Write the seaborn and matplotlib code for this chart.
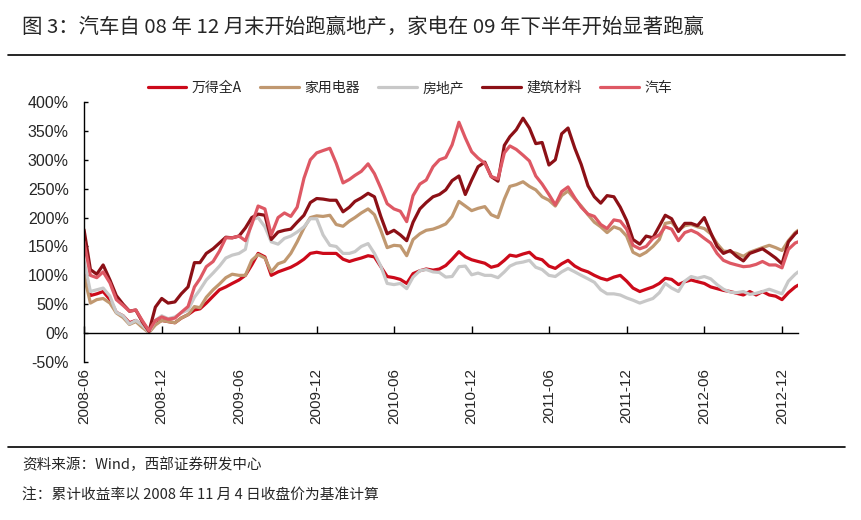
import pandas as pd
import matplotlib.pyplot as plt
import matplotlib.dates as mdates
from matplotlib.ticker import PercentFormatter
from matplotlib.lines import Line2D
import seaborn as sns

# 半月频日期（每月1日、16日），最后一个点 2013-01-08
dates = []
for y in range(2008, 2014):
    for m in range(1, 13):
        for d in (1, 16):
            t = pd.Timestamp(y, m, d)
            if pd.Timestamp(2008, 6, 1) <= t <= pd.Timestamp(2013, 1, 1):
                dates.append(t)
dates.append(pd.Timestamp(2013, 1, 8))

series_names = ['万得全A', '家用电器', '房地产', '建筑材料', '汽车']

# 累计收益率（%）
wind_a = [118, 65, 68, 72, 58, 36, 30, 18, 22, 12,
          2, 16, 22, 20, 18, 26, 32, 40, 42, 52,
          64, 75, 80, 86, 92, 100, 118, 138, 132, 100,
          106, 110, 114, 120, 128, 138, 140, 138, 138, 138,
          128, 124, 127, 130, 134, 132, 115, 98, 96, 93,
          86, 103, 108, 111, 109, 111, 117, 128, 141, 132,
          127, 124, 121, 114, 117, 126, 135, 133, 137, 140,
          130, 127, 116, 112, 120, 126, 116, 110, 106, 100,
          95, 92, 97, 100, 90, 78, 72, 76, 80, 86,
          95, 93, 84, 89, 92, 89, 86, 80, 77, 74,
          72, 69, 66, 72, 66, 72, 66, 64, 58, 70, 80,
          83]
jiadian = [100, 52, 58, 60, 52, 35, 27, 15, 20, 10,
           1, 14, 22, 20, 18, 26, 32, 46, 44, 62,
           75, 85, 96, 102, 100, 100, 126, 136, 130, 106,
           120, 124, 138, 158, 182, 200, 203, 202, 204, 188,
           185, 194, 200, 208, 215, 205, 178, 148, 152, 151,
           134, 162, 172, 178, 180, 184, 189, 202, 228, 220,
           212, 216, 219, 205, 200, 232, 254, 257, 262, 254,
           248, 236, 230, 220, 238, 246, 232, 220, 205, 192,
           184, 174, 184, 180, 168, 140, 134, 140, 150, 162,
           190, 192, 178, 186, 188, 184, 181, 172, 155, 142,
           141, 138, 133, 140, 144, 148, 152, 148, 143, 160, 174,
           178]
fangdichan = [125, 72, 75, 78, 64, 36, 30, 16, 22, 14,
              2, 22, 30, 25, 28, 35, 40, 62, 75, 92,
              104, 116, 130, 135, 138, 145, 196, 200, 184, 158,
              154, 164, 168, 175, 184, 198, 198, 170, 152, 150,
              138, 138, 141, 150, 155, 138, 116, 86, 84, 86,
              77, 97, 108, 110, 106, 105, 97, 98, 115, 116,
              101, 104, 100, 100, 96, 106, 116, 121, 123, 126,
              114, 110, 100, 98, 106, 112, 106, 100, 94, 88,
              75, 68, 68, 66, 61, 57, 52, 56, 60, 70,
              86, 78, 72, 90, 98, 95, 98, 94, 84, 76,
              71, 70, 72, 67, 69, 72, 76, 72, 68, 90, 102,
              106]
jiancai = [179, 110, 102, 118, 92, 65, 50, 38, 40, 20,
           3, 45, 60, 52, 54, 68, 80, 122, 122, 138,
           146, 156, 166, 165, 168, 182, 200, 206, 204, 162,
           175, 178, 180, 192, 204, 226, 233, 232, 230, 230,
           210, 218, 228, 234, 242, 236, 202, 172, 178, 170,
           160, 192, 215, 226, 236, 240, 248, 264, 272, 240,
           265, 288, 296, 271, 263, 325, 340, 352, 372, 355,
           328, 330, 291, 300, 345, 355, 320, 292, 255, 236,
           225, 238, 236, 218, 195, 162, 154, 168, 165, 185,
           204, 198, 176, 190, 190, 186, 200, 174, 150, 138,
           143, 133, 125, 138, 142, 146, 138, 130, 120, 158, 172,
           176]
qiche = [158, 100, 96, 106, 87, 58, 48, 38, 40, 22,
         4, 22, 28, 24, 26, 36, 46, 80, 94, 115,
         124, 142, 165, 165, 168, 160, 188, 220, 215, 170,
         200, 208, 202, 218, 268, 300, 312, 316, 320, 294,
         260, 266, 273, 280, 293, 276, 251, 224, 215, 211,
         193, 238, 258, 265, 288, 300, 304, 326, 365, 338,
         314, 303, 294, 271, 267, 312, 324, 318, 308, 298,
         272, 258, 240, 222, 245, 253, 234, 218, 206, 202,
         188, 181, 196, 194, 180, 152, 146, 150, 164, 170,
         184, 180, 160, 174, 178, 173, 164, 156, 138, 126,
         121, 118, 115, 116, 119, 124, 118, 118, 113, 145, 156,
         158]

colors = ['#CC0A1A', '#C09870', '#C8C8C8', '#8C1016', '#DE5864']

tick_dates = pd.date_range('2008-06-01', '2012-12-01', freq='6MS')

df = pd.DataFrame({'date': dates, '万得全A': wind_a, '家用电器': jiadian,
                   '房地产': fangdichan, '建筑材料': jiancai, '汽车': qiche})
long_df = df.melt(id_vars='date', var_name='series', value_name='value')

sns.set_style('white')
plt.rcParams['font.family'] = ['Liberation Sans', 'Noto Sans CJK SC']
plt.rcParams['axes.unicode_minus'] = False

fig = plt.figure(figsize=(8.61, 5.20), dpi=100)
ax = fig.add_axes([0.0976, 0.3038, 0.8294, 0.5])

sns.lineplot(data=long_df, x='date', y='value', hue='series',
             hue_order=series_names, palette=colors, linewidth=2.3, ax=ax)

ax.set_ylim(-50, 400)
ax.set_yticks(range(-50, 401, 50))
ax.yaxis.set_major_formatter(PercentFormatter(decimals=0))
ax.set_xlim(pd.Timestamp('2008-06-01'), pd.Timestamp('2013-01-08'))
ax.set_xticks(tick_dates)
ax.xaxis.set_major_formatter(mdates.DateFormatter('%Y-%m'))
ax.set_xlabel('')
ax.set_ylabel('')

for s in ['top', 'right']:
    ax.spines[s].set_visible(False)
ax.spines['bottom'].set_position(('data', 0))
ax.spines['left'].set_color('black')
ax.spines['bottom'].set_color('black')
ax.spines['left'].set_linewidth(1)
ax.spines['bottom'].set_linewidth(1)

ax.tick_params(axis='y', direction='in', length=3, width=1, color='black',
               labelsize=11.5, pad=11, left=True)
ax.tick_params(axis='x', direction='in', length=5, width=1, color='black',
               labelsize=11, pad=25, rotation=90, bottom=True)

ax.legend(loc='center', bbox_to_anchor=(410 / 861, 1 - 88 / 520),
          bbox_transform=fig.transFigure, ncol=5, frameon=False,
          handlelength=2.8, handletextpad=0.4, columnspacing=1.3,
          prop={'family': ['Noto Sans CJK SC'], 'size': 10})

fig.text(22 / 861, 1 - 27 / 520,
         '图 3：汽车自 08 年 12 月末开始跑赢地产，家电在 09 年下半年开始显著跑赢',
         family=['Noto Sans CJK SC'], fontsize=14.7, va='center', ha='left')
fig.text(22 / 861, 1 - 465 / 520, '资料来源：Wind，西部证券研发中心',
         family=['Noto Sans CJK SC'], fontsize=10.5, va='center', ha='left')
fig.text(22 / 861, 1 - 496 / 520, '注：累计收益率以 2008 年 11 月 4 日收盘价为基准计算',
         family=['Noto Sans CJK SC'], fontsize=10.6, va='center', ha='left')

fig.add_artist(Line2D([8 / 861, 845 / 861], [1 - 55 / 520, 1 - 55 / 520],
                      color='black', linewidth=1.2))
fig.add_artist(Line2D([8 / 861, 845 / 861], [1 - 447 / 520, 1 - 447 / 520],
                      color='black', linewidth=1.2))

fig.savefig('out.png', dpi=100)
